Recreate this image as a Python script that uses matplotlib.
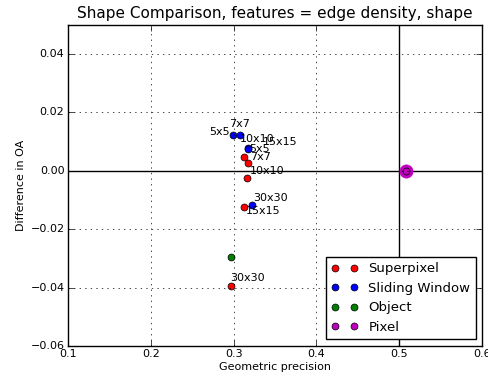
import matplotlib
matplotlib.use('Agg')
import matplotlib.pyplot as plt

plt.style.use('classic')

sizes = ['5x5', '7x7', '10x10', '15x15', '30x30']

superpixel_x = [0.3127, 0.3175, 0.3167, 0.3130, 0.2964]
superpixel_y = [0.0048, 0.0025, -0.0026, -0.0123, -0.0395]

sliding_x = [0.2988, 0.3077, 0.3170, 0.3178, 0.3219]
sliding_y = [0.0121, 0.0123, 0.0077, 0.0074, -0.0118]

object_x = [0.2970]
object_y = [-0.0297]

pixel_x = [0.508]
pixel_y = [0.0]

# label offsets (pixels) so the names don't sit on top of each other
sp_offsets = [(5, 8, 'left'), (2, 6.5, 'left'), (2, 7.5, 'left'), (1, -4.5, 'left'), (0, 8, 'left')]
sw_offsets = [(-3, 3.5, 'right'), (0, 10.5, 'center'), (-8, 9.5, 'left'), (14, 7, 'left'), (1, 7.5, 'left')]

fig = plt.figure(figsize=(4.89, 3.76), dpi=100)
ax = fig.add_axes([0.139, 0.080, 0.847, 0.854])

ax.axhline(0, color='k', lw=1)
ax.axvline(0.5, color='k', lw=1)

ax.plot(superpixel_x, superpixel_y, 'o', color='r', mec='k', ms=5, label='Superpixel')
ax.plot(sliding_x, sliding_y, 'o', color='b', mec='k', ms=5, label='Sliding Window')
ax.plot(object_x, object_y, 'o', color='g', mec='k', ms=5, label='Object')
ax.plot(pixel_x, pixel_y, 'o', color='m', mec='m', ms=9.5)
ax.plot(pixel_x, pixel_y, 'o', color='m', mec='k', ms=5, label='Pixel')

for name, x, y, (dx, dy, ha) in zip(sizes, superpixel_x, superpixel_y, sp_offsets):
    ax.annotate(name, (x, y), xytext=(dx, dy), textcoords='offset pixels',
                ha=ha, va='center', fontsize=8)
for name, x, y, (dx, dy, ha) in zip(sizes, sliding_x, sliding_y, sw_offsets):
    ax.annotate(name, (x, y), xytext=(dx, dy), textcoords='offset pixels',
                ha=ha, va='center', fontsize=8)

ax.set_xlim(0.1, 0.6)
ax.set_ylim(-0.06, 0.05)
ax.set_xticks([0.1, 0.2, 0.3, 0.4, 0.5, 0.6])
ax.set_yticks([-0.06, -0.04, -0.02, 0.0, 0.02, 0.04])
ax.tick_params(labelsize=8, pad=2.5)
ax.grid(True)

ax.set_title('Shape Comparison, features = edge density, shape', fontsize=11)
ax.set_xlabel('Geometric precision', fontsize=8, labelpad=2)
ax.set_ylabel('Difference in OA', fontsize=8, labelpad=3)

ax.legend(loc='lower right', fontsize=9.5, numpoints=2)

fig.savefig('out.png', dpi=100)
